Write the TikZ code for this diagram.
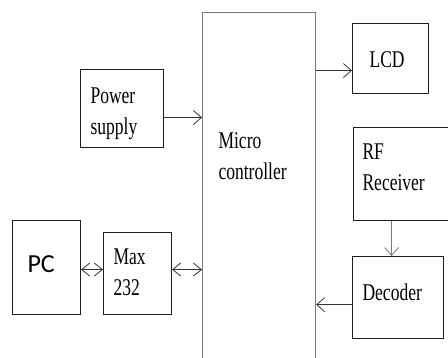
\documentclass[tikz,border=0pt]{standalone}
\usepackage{fontspec}
\setmainfont{Liberation Serif}[FakeStretch=0.73]
\newfontfamily\pcfont{Carlito}
\usepackage{tikz}
\usetikzlibrary{positioning,arrows.meta}
\usepackage{xcolor}
\definecolor{frame}{RGB}{30,30,30}
\definecolor{mcline}{RGB}{120,120,120}

\begin{document}
\begin{tikzpicture}[x=1pt, y=1pt,
  box/.style={draw=frame, line width=1.1pt, rectangle, anchor=north west, inner ysep=0pt,
    inner xsep=10pt, align=left, font=\fontsize{24}{31}\selectfont},
  arr/.style={draw=frame!90, line width=0.8pt, -{Straight Barb[length=8pt,width=14pt]}},
  darr/.style={draw=frame!90, line width=0.8pt, {Straight Barb[length=8pt,width=13pt]}-{Straight Barb[length=8pt,width=13pt]}}
]
\useasboundingbox (0,0) rectangle (448,-357);
\fill[white] (0,0) rectangle (448,-357);
% blocks
\node[box, draw=mcline, inner xsep=16pt, text width=81pt, text height=136pt, text depth=232pt] (mc) at (202,-12) {Micro\\controller};
\node[box, text width=63pt, text height=34.3pt, text depth=43.7pt] (pwr) at (80,-69) {Power\\supply};
\node[box, inner xsep=17pt, text width=42pt, text height=44pt, text depth=26pt] (lcd) at (352,-23) {LCD};
\node[box, inner xsep=9pt, text width=82pt, text height=32pt, text depth=61pt] (rf) at (353,-127) {RF\\Receiver};
\node[box, text width=71pt, text height=44pt, text depth=38pt, below=35pt of rf.south west, anchor=north west, xshift=-1pt] (dec) {Decoder};
\node[box, inner xsep=15pt, text width=38pt, text height=52pt, text depth=42pt, font=\pcfont\fontsize{26}{31}\selectfont] (pc) at (12,-220) {PC};
\node[box, text width=48pt, text height=32pt, text depth=50pt] (max) at (103,-232) {Max\\232};
% links
\draw[arr] ([yshift=-9pt]pwr.east) -- ([yshift=-9pt]pwr.east -| mc.west);
\draw[arr] ([yshift=-12pt]lcd.west -| mc.east) -- ([yshift=-12pt]lcd.west);
\draw[arr, draw=mcline] ([xshift=-6.5pt]dec.north |- rf.south) -- ([xshift=-6.5pt]dec.north);
\draw[arr] ([yshift=-7pt]dec.west) -- ([yshift=-7pt]dec.west -| mc.east);
\draw[darr] ([yshift=-2pt]pc.east) -- ([yshift=-2pt]pc.east -| max.west);
\draw[darr] ([yshift=4pt]max.east) -- ([yshift=4pt]max.east -| mc.west);
\end{tikzpicture}
\end{document}
